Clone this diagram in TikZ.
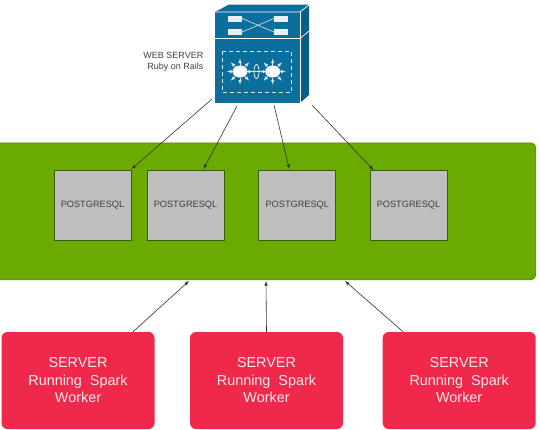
\documentclass[tikz,border=0pt]{standalone}
\usepackage{fontspec}
\usetikzlibrary{shapes.geometric}
\setmainfont{Liberation Sans}
\definecolor{ciscoblue}{HTML}{0B6E9C}
\definecolor{clustergreen}{HTML}{6BAA00}
\definecolor{dbgray}{HTML}{BEBEBE}
\definecolor{serverred}{HTML}{F0284C}
\tikzset{
  dbbox/.style={draw=black!45!clustergreen,line width=0.8pt,fill=dbgray,minimum width=77pt,minimum height=70pt,inner sep=0pt,font=\fontsize{9.2}{11}\selectfont,text=black!75},
  serverbox/.style={fill=serverred,rounded corners=6pt,minimum width=153pt,minimum height=97pt,inner sep=0pt,align=center,text=white!90!serverred,font=\fontsize{14.4}{17.5}\selectfont},
  conn/.style={draw=black!80,line width=0.6pt,-latex},
  wire/.style={white!85!ciscoblue,line width=0.6pt},
  pad/.style={fill=white!90!ciscoblue,minimum width=14pt,minimum height=6pt,inner sep=0pt},
  hub/.style={ellipse,fill=white,minimum width=15pt,minimum height=12pt,inner sep=0pt}
}
\begin{document}
\begin{tikzpicture}[x=1pt,y=-1pt]
\useasboundingbox (0,0) rectangle (540,429);

% Cluster
\node[draw=black!25!clustergreen,fill=clustergreen,line width=0.6pt,rounded corners=5pt,minimum width=541pt,minimum height=137pt,inner sep=0pt] (cluster) at (265.3,211.3) {};

% Databases
\node[dbbox] (pgA) at (92.5,205.5) {POSTGRESQL};
\node[dbbox] (pgB) at (185.5,205.5) {POSTGRESQL};
\node[dbbox] (pgC) at (297.3,205.5) {POSTGRESQL};
\node[dbbox] (pgD) at (408.5,205.5) {POSTGRESQL};

% Workers
\node[serverbox] (srvA) at (78,380.5) {SERVER\\Running\ \ Spark\\Worker};
\node[serverbox] (srvB) at (266.5,380.5) {SERVER\\Running\ \ Spark\\Worker};
\node[serverbox] (srvC) at (459.2,380.5) {SERVER\\Running\ \ Spark\\Worker};

% Web server, sides of the box
\fill[ciscoblue!85!black] (300,12) -- (309,5) -- (309,95) -- (300,103) -- cycle;
\fill[ciscoblue] (215,12) -- (229,4.5) -- (309,4.5) -- (300,12) -- cycle;
\node[fill=ciscoblue,minimum width=85pt,minimum height=91pt,inner sep=0pt] (web) at (257.5,57.5) {};
\draw[white,line width=0.7pt] (215,12) -- (300,12) -- (309,5);
\draw[white,line width=0.7pt] (300,12) -- (300,103);
\draw[white,line width=0.7pt] (215,38.5) -- (300,38.5) -- (309,31);

% Switch symbol on top
\node[pad] (padA) at (235,18.5) {};
\node[pad] (padB) at (281,18.5) {};
\node[pad] (padC) at (235,32) {};
\node[pad] (padD) at (281,32) {};
\draw[wire] (padA.east) -- (padD.west);
\draw[wire] (padC.east) -- (padB.west);

% Router symbol
\draw[white!85!ciscoblue,line width=0.9pt,dash pattern=on 4pt off 3pt] (222,51) rectangle (291,92.5);
\node[hub] (hubA) at (240,71.5) {};
\node[hub] (hubB) at (272.7,71.5) {};
\draw[wire,line width=0.9pt] (hubA) -- (hubB);
\draw[white,line width=0.7pt] (256.5,71.5) ellipse (2.5pt and 7pt);
\foreach \a in {0,45,135,180,225,315,90,270} {
  \draw[wire,-latex] (hubA.center) ++(\a:6pt) -- ++(\a:7pt);
  \draw[wire,-latex] (hubB.center) ++(\a:6pt) -- ++(\a:7pt);
}

% Web server label
\node[align=right,anchor=east,inner sep=0pt,font=\fontsize{9}{11}\selectfont,text=black!75] (weblbl) at (203.5,61.5) {WEB SERVER\\Ruby on Rails};

% Free ends at the box
\coordinate (webA) at (212,99);
\coordinate (webB) at (237,106);
\coordinate (webC) at (274,105);
\coordinate (webD) at (312,105);

% Connectors
\draw[conn] (webA) -- ([shift={(0pt,1pt)}]pgA.north east);
\draw[conn] (webB) -- ([shift={(18pt,1pt)}]pgB.north);
\draw[conn] (webC) -- ([shift={(-8pt,1pt)}]pgC.north);
\draw[conn] (webD) -- ([shift={(-35pt,0pt)}]pgD.north);

% Free ends under the cluster
\coordinate (hitA) at (189,281);
\coordinate (hitB) at (266,281);
\coordinate (hitC) at (345,281);
\draw[conn] ([xshift=55pt]srvA.north) -- (hitA);
\draw[conn] (srvB.north) -- (hitB);
\draw[conn] ([xshift=-56pt]srvC.north) -- (hitC);

\end{tikzpicture}
\end{document}
